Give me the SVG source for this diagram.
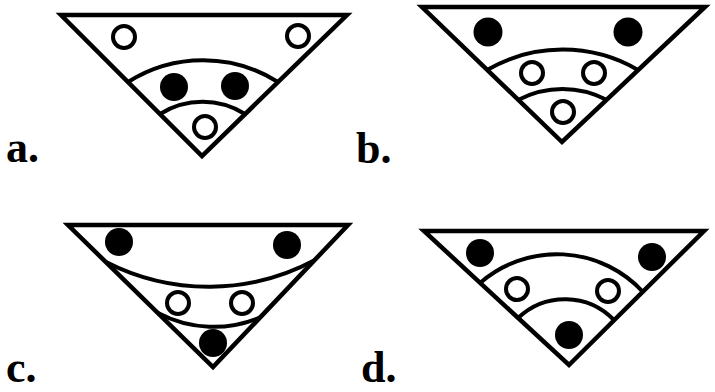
<svg xmlns="http://www.w3.org/2000/svg" width="715" height="392" viewBox="0 0 715 392">
<style>
.tri{fill:none;stroke:#000;stroke-width:4.5;stroke-linejoin:miter}
.arc{fill:none;stroke:#000;stroke-width:4}
.o{fill:#fff;stroke:#000;stroke-width:4}
.f{fill:#000}
.lbl{font-family:"Liberation Serif","Times New Roman",serif;font-weight:bold;font-size:44px;fill:#000}
</style>
<rect width="715" height="392" fill="#fff"/>
<g id="panel-a">
<path class="tri" d="M61,15 L347,15 L202,156 Z"/>
<path class="arc" d="M128,82 A140 140 0 0 1 278,82"/>
<path class="arc" d="M160,114 A80 80 0 0 1 245,114"/>
<circle class="o" cx="124" cy="37" r="11"/>
<circle class="o" cx="298" cy="36" r="11"/>
<circle class="f" cx="174" cy="87" r="14"/>
<circle class="f" cx="235" cy="86" r="14"/>
<circle class="o" cx="205" cy="127" r="11"/>
<text class="lbl" x="6" y="162">a.</text>
</g>
<g id="panel-b">
<path class="tri" d="M422,7 L705,7 L562,142 Z"/>
<path class="arc" d="M487,70 A150 150 0 0 1 638,70"/>
<path class="arc" d="M518,100 A95 95 0 0 1 607,100"/>
<circle class="f" cx="488" cy="32" r="14.5"/>
<circle class="f" cx="628" cy="32" r="14.5"/>
<circle class="o" cx="532" cy="73" r="11"/>
<circle class="o" cx="594" cy="73" r="11"/>
<circle class="o" cx="563" cy="112" r="11"/>
<text class="lbl" x="356" y="163">b.</text>
</g>
<g id="panel-c">
<path class="tri" d="M68,225 L348,225 L213,367 Z"/>
<path class="arc" d="M106,262 A225 225 0 0 0 315,260"/>
<path class="arc" d="M158,313 A119 119 0 0 0 261,317"/>
<circle class="f" cx="119" cy="242" r="14"/>
<circle class="f" cx="287" cy="245" r="14"/>
<circle class="o" cx="178" cy="303" r="11"/>
<circle class="o" cx="242" cy="303" r="11"/>
<circle class="f" cx="213" cy="343" r="14"/>
<text class="lbl" x="6" y="382">c.</text>
</g>
<g id="panel-d">
<path class="tri" d="M424,231 L704,231 L569,365 Z"/>
<path class="arc" d="M480,283 A117 117 0 0 1 643,292"/>
<path class="arc" d="M518,318 A68 68 0 0 1 614,320"/>
<circle class="f" cx="480" cy="253" r="14"/>
<circle class="f" cx="652" cy="257" r="14"/>
<circle class="o" cx="517" cy="289" r="11"/>
<circle class="o" cx="608" cy="291" r="11"/>
<circle class="f" cx="569" cy="335" r="14"/>
<text class="lbl" x="361" y="382">d.</text>
</g>
</svg>
